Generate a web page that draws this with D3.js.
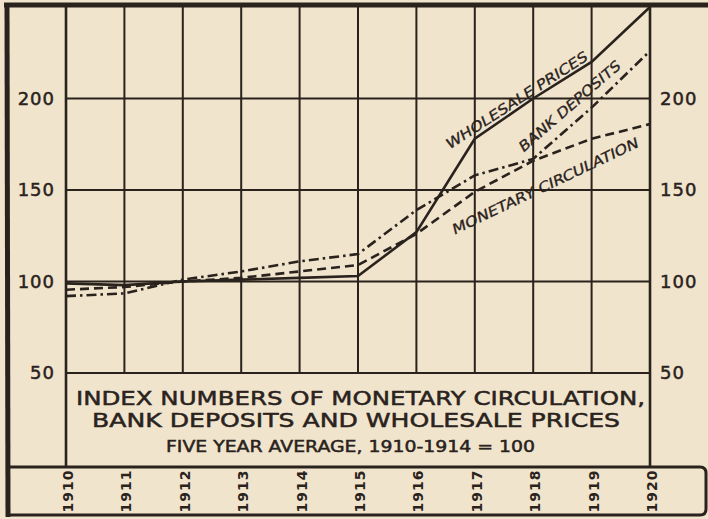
<!DOCTYPE html>
<html>
<head>
<meta charset="utf-8">
<script src="https://cdn.jsdelivr.net/npm/d3@7/dist/d3.min.js"></script>
<style>
  body { margin: 0; background: #f0e4cd; }
  .chart text { font-family: "DejaVu Sans", sans-serif; fill: #2a221c; }
</style>
</head>
<body>
<div class="chart"></div>
<script>
  // values (1910-1914 = 100)
  var years = [1910, 1911, 1912, 1913, 1914, 1915, 1916, 1917, 1918, 1919, 1920];
  var wholesalePrices = [99, 98, 100, 101, 102, 103, 127, 178, 200, 220, 250];
  var bankDeposits = [92, 93.5, 101, 105.5, 111, 115, 139, 158, 167, 195, 226];
  var monetaryCirculation = [95.5, 97, 100, 102, 105.5, 109, 126, 149, 166, 178, 186];
  var yTicks = [50, 100, 150, 200];
  var titleLines = [
    'INDEX NUMBERS OF MONETARY CIRCULATION,',
    'BANK DEPOSITS AND WHOLESALE PRICES',
    'FIVE YEAR AVERAGE, 1910-1914 = 100'
  ];

  var width = 708;
  var height = 519;
  var ink = '#2a221c';

  var svg = d3
  .select('.chart')
  .append('svg')
  .attr('width', width)
  .attr('height', height)
  .append('g')

  svg.append('rect')
    .attr('width', width)
    .attr('height', height)
    .attr('fill', '#f0e4cd')

  var x = d3.scaleLinear().domain([1910, 1920]).range([66, 650])
  var y = d3.scaleLinear().domain([50, 250]).range([373, 7])

  // horizontal grid lines
  svg.selectAll('.hgrid')
    .data(yTicks)
    .enter()
    .append('line')
    .attr('x1', x(1910))
    .attr('x2', x(1920))
    .attr('y1', function(d){ return y(d) })
    .attr('y2', function(d){ return y(d) })
    .attr('stroke', ink)
    .attr('stroke-width', 2)

  // vertical grid lines, the outer two run down through the title box
  svg.selectAll('.vgrid')
    .data(years)
    .enter()
    .append('line')
    .attr('x1', function(d){ return x(d) })
    .attr('x2', function(d){ return x(d) })
    .attr('y1', y(250))
    .attr('y2', function(d){
      return (d === 1910 || d === 1920) ? 467 : y(50)
    })
    .attr('stroke', ink)
    .attr('stroke-width', function(d){
      return (d === 1910 || d === 1920) ? 2.6 : 2
    })

  // frame
  svg.append('line')
    .attr('x1', 4).attr('x2', width)
    .attr('y1', 5).attr('y2', 5)
    .attr('stroke', ink).attr('stroke-width', 5)
  svg.append('line')
    .attr('x1', 7).attr('x2', 8)
    .attr('y1', 3).attr('y2', 517)
    .attr('stroke', ink).attr('stroke-width', 5)
  svg.append('path')
    .attr('d', 'M8,467 L700,467 Q706,467 706,473 L706,509 Q706,515 700,515 L8,515')
    .attr('fill', 'none')
    .attr('stroke', ink)
    .attr('stroke-width', 3)

  // value axes on both sides
  var leftAxis = d3.axisLeft(y).tickValues(yTicks).tickSize(0).tickPadding(11)
  var rightAxis = d3.axisRight(y).tickValues(yTicks).tickSize(0).tickPadding(10)

  svg.append('g')
    .attr('transform', 'translate(' + x(1910) + ',0)')
    .call(leftAxis)
  svg.append('g')
    .attr('transform', 'translate(' + x(1920) + ',0)')
    .call(rightAxis)

  svg.selectAll('.domain').remove()
  svg.selectAll('.tick text')
    .style('font-size', '18px')
    .style('letter-spacing', '1px')
    .attr('fill', ink)
    .attr('stroke', ink)
    .attr('stroke-width', 0.5)

  // year labels in the bottom strip
  svg.selectAll('.year')
    .data(years)
    .enter()
    .append('text')
    .attr('class', 'year')
    .attr('transform', function(d){
      return 'translate(' + (x(d) + 2) + ',491) rotate(-90)'
    })
    .attr('text-anchor', 'middle')
    .attr('dominant-baseline', 'central')
    .style('font-size', '14px')
    .style('font-weight', 'bold')
    .style('letter-spacing', '1px')
    .text(function(d){ return d })

  // the three series
  var line = d3.line()
    .x(function(d, i){ return x(years[i]) })
    .y(function(d){ return y(d) })

  var series = [
    { values: wholesalePrices, dash: null },
    { values: bankDeposits, dash: '10,4,2.5,4' },
    { values: monetaryCirculation, dash: '9,5' }
  ]

  svg.selectAll('.series')
    .data(series)
    .enter()
    .append('path')
    .attr('class', 'series')
    .attr('d', function(d){ return line(d.values) })
    .attr('fill', 'none')
    .attr('stroke', ink)
    .attr('stroke-width', 2.6)
    .attr('stroke-dasharray', function(d){ return d.dash })

  // hand lettered labels along the lines
  var lineLabels = [
    { text: 'WHOLESALE PRICES', px: 449, py: 150, angle: -33, len: 166 },
    { text: 'BANK DEPOSITS', px: 523, py: 153, angle: -41, len: 130 },
    { text: 'MONETARY CIRCULATION', px: 454, py: 235, angle: -25.5, len: 205 }
  ]

  svg.selectAll('.line-label')
    .data(lineLabels)
    .enter()
    .append('text')
    .attr('class', 'line-label')
    .attr('transform', function(d){
      return 'translate(' + d.px + ',' + d.py + ') rotate(' + d.angle + ') skewX(-12)'
    })
    .attr('textLength', function(d){ return d.len })
    .attr('lengthAdjust', 'spacingAndGlyphs')
    .attr('stroke', ink)
    .attr('stroke-width', 0.3)
    .style('font-size', '14px')
    .text(function(d){ return d.text })

  // title inside the box under the grid
  var titleBox = [
    { x1: 76, x2: 645, base: 405, size: 20 },
    { x1: 92, x2: 620, base: 427, size: 20 },
    { x1: 166, x2: 535, base: 452, size: 16 }
  ]

  svg.selectAll('.title')
    .data(titleLines)
    .enter()
    .append('text')
    .attr('class', 'title')
    .attr('x', function(d, i){ return titleBox[i].x1 })
    .attr('y', function(d, i){ return titleBox[i].base })
    .attr('textLength', function(d, i){ return titleBox[i].x2 - titleBox[i].x1 })
    .attr('lengthAdjust', 'spacingAndGlyphs')
    .attr('stroke', ink)
    .attr('stroke-width', 0.5)
    .style('font-size', function(d, i){ return titleBox[i].size + 'px' })
    .text(function(d){ return d })
</script>
</body>
</html>
